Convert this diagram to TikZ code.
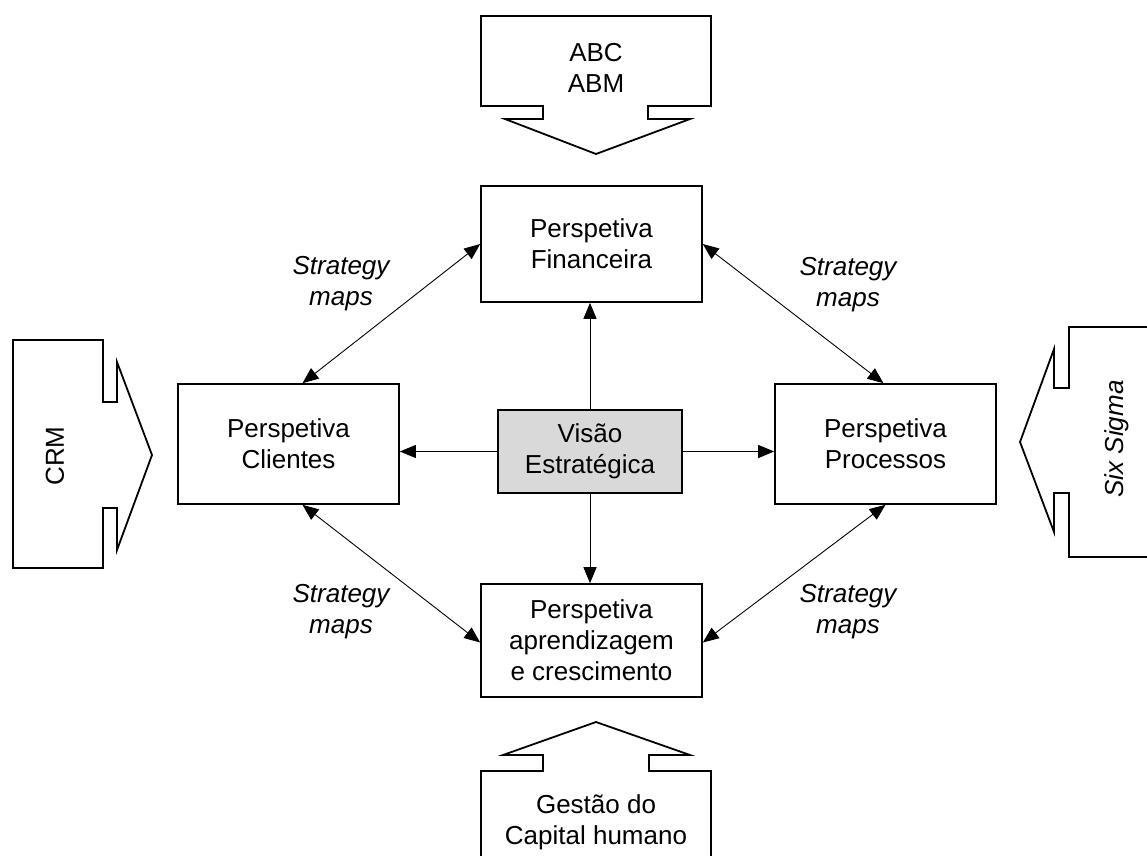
\documentclass[tikz,border=0pt]{standalone}
\usepackage{fontspec}
\setmainfont{Liberation Sans}
\usetikzlibrary{arrows.meta,calc}
\definecolor{visionfill}{RGB}{217,217,217}
\begin{document}
\begin{tikzpicture}[x=1pt,y=-1pt,
  box/.style={draw,line width=1.6pt,align=center,inner sep=0pt,
    font=\fontsize{26}{31}\selectfont},
  link/.style={line width=0.9pt,-{Triangle[length=16pt,width=13pt]}},
  both/.style={line width=0.9pt,{Triangle[length=16pt,width=13pt]}-{Triangle[length=16pt,width=13pt]}},
  lab/.style={align=center,inner sep=0pt,font=\fontsize{26}{31}\selectfont\itshape},
  txt/.style={align=center,inner sep=0pt,font=\fontsize{26}{31}\selectfont},
  bigarrow/.style={draw,line width=1.8pt,fill=white,line join=miter}]
\useasboundingbox (0,0) rectangle (1147,855);
\clip (0,0) rectangle (1147,855);

% external tools feeding the perspectives
\draw[bigarrow] (481,16) -- (711,16) -- (711,106) -- (648,106) -- (648,119)
  -- (690,119) -- (596,154) -- (505,119) -- (543,119) -- (543,106) -- (481,106) -- cycle;
\node[txt] (abc) at (596,68) {ABC\\ABM};

\draw[bigarrow] (596,722) -- (690,755) -- (649,755) -- (649,771) -- (711,771)
  -- (711,861) -- (481,861) -- (481,771) -- (543,771) -- (543,755) -- (503,755) -- cycle;
\node[txt] (gch) at (596,822) {Gestão do\\Capital humano};

\draw[bigarrow] (13,340) -- (103,340) -- (103,402) -- (117,402) -- (117,362)
  -- (152,455) -- (117,550) -- (117,508) -- (103,508) -- (103,568) -- (13,568) -- cycle;
\node[txt,rotate=90] (crm) at (55,456) {CRM};

\draw[bigarrow] (1069,327) -- (1160,327) -- (1160,557) -- (1069,557) -- (1069,493)
  -- (1054,493) -- (1054,532) -- (1020,442) -- (1054,349) -- (1054,388) -- (1069,388) -- cycle;
\node[txt,font=\fontsize{26}{31}\selectfont\itshape,rotate=90] (six) at (1117,439) {Six Sigma};

% perspectives
\node[box,minimum width=221pt,minimum height=116pt] (fin) at (591.5,244) {Perspetiva\\Financeira};
\node[box,minimum width=221pt,minimum height=120pt] (cli) at (288.5,444) {Perspetiva\\Clientes};
\node[box,minimum width=221pt,minimum height=120pt] (pro) at (885.5,444) {Perspetiva\\Processos};
\node[box,minimum width=221pt,minimum height=113pt] (apr) at (591.5,640.5) {Perspetiva\\aprendizagem\\e crescimento};
\node[box,fill=visionfill,minimum width=184pt,minimum height=83pt] (vis) at (590,451.5) {Visão\\Estratégica};

% vision to perspectives
\draw[link] (vis.north) -- (vis.north |- fin.south);
\draw[link] (vis.south) -- (vis.south |- apr.north);
\draw[link] (vis.west) -- (vis.west -| cli.east);
\draw[link] (vis.east) -- (vis.east -| pro.west);

% strategy maps between perspectives
\draw[both] ($(cli.north)+(14,0)$) -- (fin.west);
\draw[both] (fin.east) -- ($(pro.north)+(-2,0)$);
\draw[both] ($(cli.south)+(14,0)$) -- ($(apr.west)+(0,2)$);
\draw[both] ($(apr.east)+(0,2)$) -- (pro.south);

\node[lab] (sm1) at (341,284) {Strategy\\maps};
\node[lab] (sm2) at (848,285) {Strategy\\maps};
\node[lab] (sm3) at (341,612) {Strategy\\maps};
\node[lab] (sm4) at (848,612) {Strategy\\maps};
\end{tikzpicture}
\end{document}
